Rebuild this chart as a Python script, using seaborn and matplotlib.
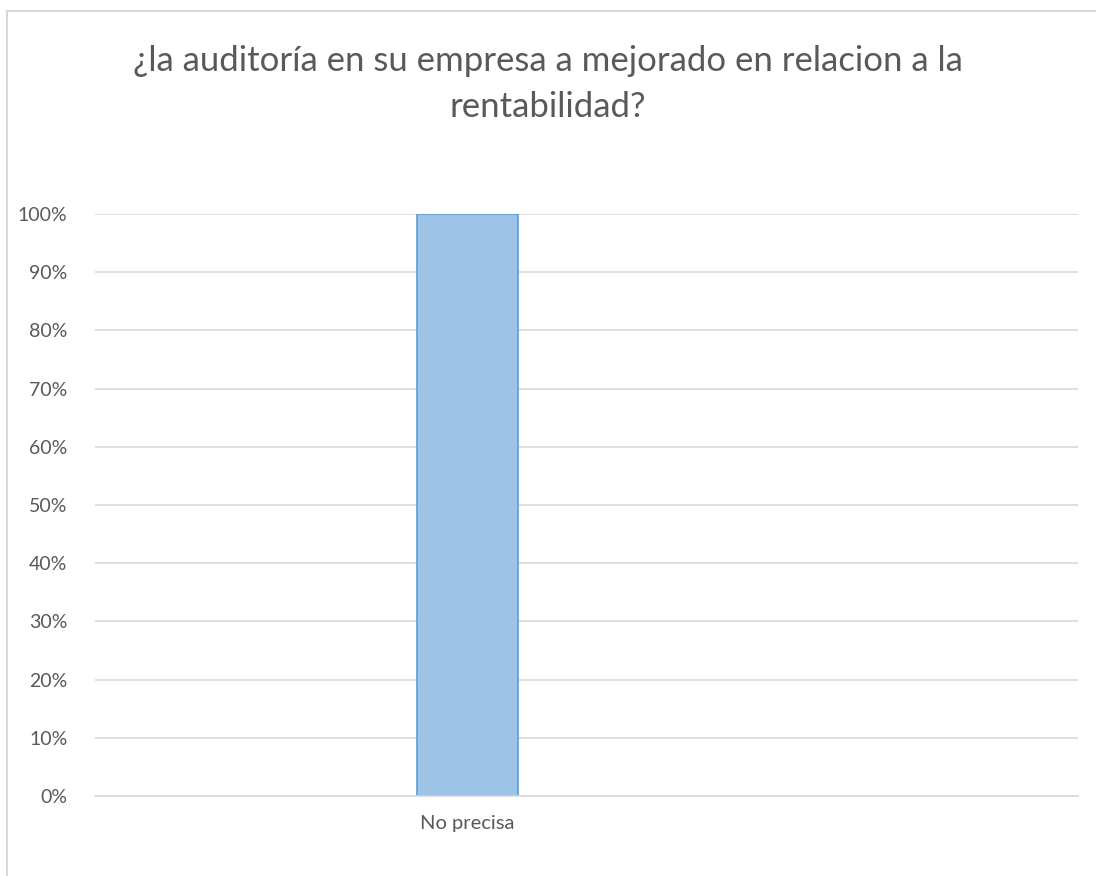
import matplotlib
matplotlib.use("Agg")
import matplotlib.pyplot as plt
import seaborn as sns
import pandas as pd
from matplotlib.ticker import PercentFormatter
from matplotlib.lines import Line2D

categories = ["No precisa"]
values = [1.0]
yticks = [0, 0.1, 0.2, 0.3, 0.4, 0.5, 0.6, 0.7, 0.8, 0.9, 1.0]
title = "¿la auditoría en su empresa a mejorado en relacion a la\nrentabilidad?"

sns.set_theme(style="white")
plt.rcParams['font.family'] = ['Lato', 'DejaVu Sans']

df = pd.DataFrame({"cat": categories, "val": values})

fig = plt.figure(figsize=(10.96, 8.76), dpi=100)
ax = fig.add_axes([95/1096, 80/876, (1078-95)/1096, (796-214)/876])

sns.barplot(data=df, x="cat", y="val", ax=ax, color="#9DC3E6", width=0.41,
            edgecolor="#5B9BD5", linewidth=1.2, saturation=1)

ax.set_xlim(-1.515, 2.485)
ax.set_ylim(0, 1.0)
ax.set_yticks(yticks)
ax.yaxis.set_major_formatter(PercentFormatter(1.0, decimals=0))
ax.grid(axis="y", color="#D9D9D9", linewidth=1.2)
ax.set_axisbelow(True)
for s in ["top", "right", "left"]:
    ax.spines[s].set_visible(False)
ax.spines["bottom"].set_color("#D9D9D9")
ax.spines["bottom"].set_linewidth(1.2)
ax.tick_params(axis="y", length=0, labelsize=14, colors="#595959", pad=20)
ax.tick_params(axis="x", length=0, labelsize=14.5, colors="#595959", pad=14)
ax.set_xlabel("")
ax.set_ylabel("")

fig.text(0.5, 1 - 84/876, title, ha="center", va="center", fontsize=25,
         color="#595959", linespacing=1.55)

bx = 6.5/1096
by = 1 - 10.5/876
fig.lines.append(Line2D([bx, bx], [0, by], transform=fig.transFigure,
                        color="#D9D9D9", linewidth=1.5))
fig.lines.append(Line2D([bx, 1], [by, by], transform=fig.transFigure,
                        color="#D9D9D9", linewidth=1.5))

fig.savefig("out.png", dpi=100)
